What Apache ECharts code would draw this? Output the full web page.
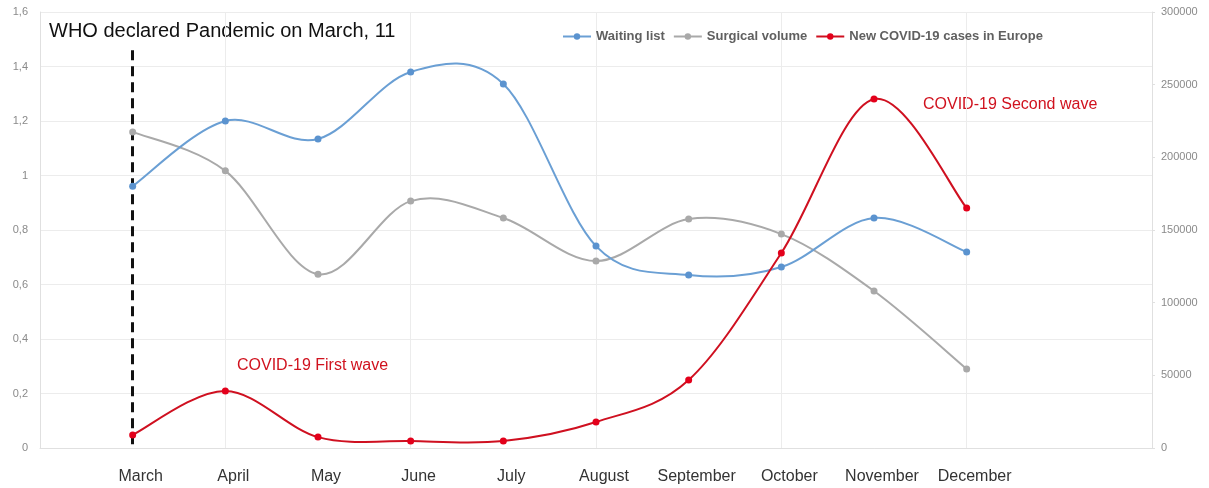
<!DOCTYPE html>
<html>
<head>
<meta charset="utf-8">
<script src="https://cdn.jsdelivr.net/npm/echarts@6/dist/echarts.min.js"></script>
<style>
  html, body { margin: 0; padding: 0; background: #fff; }
  #chart { width: 1209px; height: 488px; }
</style>
</head>
<body>
<div id="chart"></div>
<script>
// Months shown on the axis; blank slots pad the axis on both ends.
const months = ['March', 'April', 'May', 'June', 'July', 'August', 'September', 'October', 'November', 'December'];

// Ratios against 2019 (left axis)
const waitingList = [0.961, 1.20, 1.134, 1.38, 1.336, 0.741, 0.635, 0.664, 0.844, 0.719];
const surgicalVolume = [1.16, 1.017, 0.638, 0.906, 0.844, 0.686, 0.84, 0.785, 0.576, 0.29];

// Monthly new COVID-19 cases in Europe (right axis)
const newCases = [9000, 39200, 7500, 4800, 4800, 17900, 46800, 134200, 240100, 165100];

// Tick values
const leftTicks = [0, 0.2, 0.4, 0.6, 0.8, 1, 1.2, 1.4, 1.6];
const rightTicks = [0, 50000, 100000, 150000, 200000, 250000, 300000];

const pandemicMonth = 'March';
const pandemicLineTop = 1.46;

// one empty slot before March, two after December
const categories = [''].concat(months, [' ', '  ']);
const pad = arr => [null].concat(arr, [null, null]);

const FONT = '"Liberation Sans", Arial, sans-serif';

const COLORS = {
  waiting: '#6a9fd4', waitingDot: '#5b93cf',
  surgical: '#a9a9a9',
  cases: '#cf1020', casesDot: '#e3001b'
};

// Cardinal (Catmull-Rom style) spline through the points, built as cubic Beziers
// with control points offset by one sixth of the neighbour-to-neighbour vector.
function splinePath(pts) {
  let d = 'M' + pts[0][0] + ',' + pts[0][1];
  for (let i = 0; i < pts.length - 1; i++) {
    const p0 = pts[Math.max(i - 1, 0)];
    const p1 = pts[i];
    const p2 = pts[i + 1];
    const p3 = pts[Math.min(i + 2, pts.length - 1)];
    const c1 = [p1[0] + (p2[0] - p0[0]) / 6, p1[1] + (p2[1] - p0[1]) / 6];
    const c2 = [p2[0] - (p3[0] - p1[0]) / 6, p2[1] - (p3[1] - p1[1]) / 6];
    d += 'C' + c1[0] + ',' + c1[1] + ' ' + c2[0] + ',' + c2[1] + ' ' + p2[0] + ',' + p2[1];
  }
  return d;
}

// Curve layer: a custom series that maps the values through the axes and strokes the spline
function curveSeries(id, values, yAxisIndex, color, z) {
  return {
    id: id,
    type: 'custom',
    coordinateSystem: 'cartesian2d',
    yAxisIndex: yAxisIndex,
    z: z,
    silent: true,
    clip: false,
    data: months.map((m, i) => [categories.indexOf(m), values[i]]),
    encode: { x: 0, y: 1 },
    renderItem: (params, api) => {
      if (params.dataIndex !== 0) return null;
      const pts = months.map((m, i) => api.coord([categories.indexOf(m), values[i]]));
      return {
        type: 'path',
        shape: { pathData: splinePath(pts) },
        style: { fill: 'none', stroke: color, lineWidth: 2 }
      };
    }
  };
}

// Marker layer: line series carrying the dots and the legend entry
function dotSeries(name, values, yAxisIndex, dotColor, z) {
  return {
    name: name,
    type: 'line',
    yAxisIndex: yAxisIndex,
    data: pad(values),
    symbol: 'circle',
    symbolSize: 7,
    z: z,
    itemStyle: { color: dotColor },
    lineStyle: { width: 0, opacity: 0 }
  };
}

const chart = echarts.init(document.getElementById('chart'), null, { renderer: 'canvas' });

const waitingDots = dotSeries('Waiting list', waitingList, 0, COLORS.waitingDot, 6);
waitingDots.markLine = {
  silent: true,
  symbol: 'none',
  label: { show: false },
  lineStyle: { color: '#111', width: 3, type: [10, 6], opacity: 1 },
  data: [[
    { coord: [pandemicMonth, pandemicLineTop] },
    { coord: [pandemicMonth, 0] }
  ]]
};

chart.setOption({
  backgroundColor: '#ffffff',
  animation: false,
  textStyle: { fontFamily: FONT },
  grid: { left: 40, right: 57, top: 12, bottom: 40, containLabel: false },
  legend: {
    left: 557,
    top: 25,
    itemWidth: 28,
    itemHeight: 8,
    itemGap: 8,
    textStyle: { fontFamily: FONT, fontSize: 13, fontWeight: 'bold', color: '#606060' },
    data: [
      { name: 'Waiting list', lineStyle: { color: COLORS.waiting, width: 2, opacity: 1 } },
      { name: 'Surgical volume', lineStyle: { color: COLORS.surgical, width: 2, opacity: 1 } },
      { name: 'New COVID-19 cases in Europe', lineStyle: { color: COLORS.cases, width: 2, opacity: 1 } }
    ]
  },
  xAxis: {
    type: 'category',
    data: categories,
    boundaryGap: false,
    axisLine: { lineStyle: { color: '#e0e0e0' } },
    axisTick: { show: false },
    axisLabel: {
      interval: 0,
      color: '#333',
      fontSize: 16,
      margin: 21,
      padding: [0, 0, 0, 16]
    },
    splitLine: {
      show: true,
      interval: (i) => i % 2 === 0,
      lineStyle: { color: '#ececec' }
    }
  },
  yAxis: [
    {
      type: 'value',
      min: leftTicks[0],
      max: leftTicks[leftTicks.length - 1],
      interval: leftTicks[1] - leftTicks[0],
      axisLine: { show: true, lineStyle: { color: '#e0e0e0' } },
      axisTick: { show: false },
      axisLabel: {
        color: '#8a8a8a',
        fontSize: 11,
        margin: 12,
        formatter: v => String(Math.round(v * 10) / 10).replace('.', ',')
      },
      splitLine: { lineStyle: { color: '#ececec' } }
    },
    {
      type: 'value',
      min: rightTicks[0],
      max: rightTicks[rightTicks.length - 1],
      interval: rightTicks[1] - rightTicks[0],
      axisLine: { show: true, lineStyle: { color: '#e0e0e0' } },
      axisTick: { show: true, length: 3, lineStyle: { color: '#e0e0e0' } },
      axisLabel: { color: '#8a8a8a', fontSize: 11, margin: 9, formatter: v => String(v) },
      splitLine: { show: false }
    }
  ],
  series: [
    curveSeries('surgical-curve', surgicalVolume, 0, COLORS.surgical, 2),
    curveSeries('waiting-curve', waitingList, 0, COLORS.waiting, 3),
    curveSeries('cases-curve', newCases, 1, COLORS.cases, 4),
    dotSeries('Surgical volume', surgicalVolume, 0, COLORS.surgical, 5),
    waitingDots,
    dotSeries('New COVID-19 cases in Europe', newCases, 1, COLORS.casesDot, 7)
  ],
  graphic: [
    {
      type: 'text',
      left: 49,
      top: 21,
      style: { text: 'WHO declared Pandemic on March, 11', font: '20px ' + FONT, fill: '#111' }
    },
    {
      type: 'text',
      left: 237,
      top: 358,
      style: { text: 'COVID-19 First wave', font: '16px ' + FONT, fill: '#d0121e' }
    },
    {
      type: 'text',
      left: 923,
      top: 97,
      style: { text: 'COVID-19 Second wave', font: '16px ' + FONT, fill: '#d0121e' }
    }
  ]
});
</script>
</body>
</html>
